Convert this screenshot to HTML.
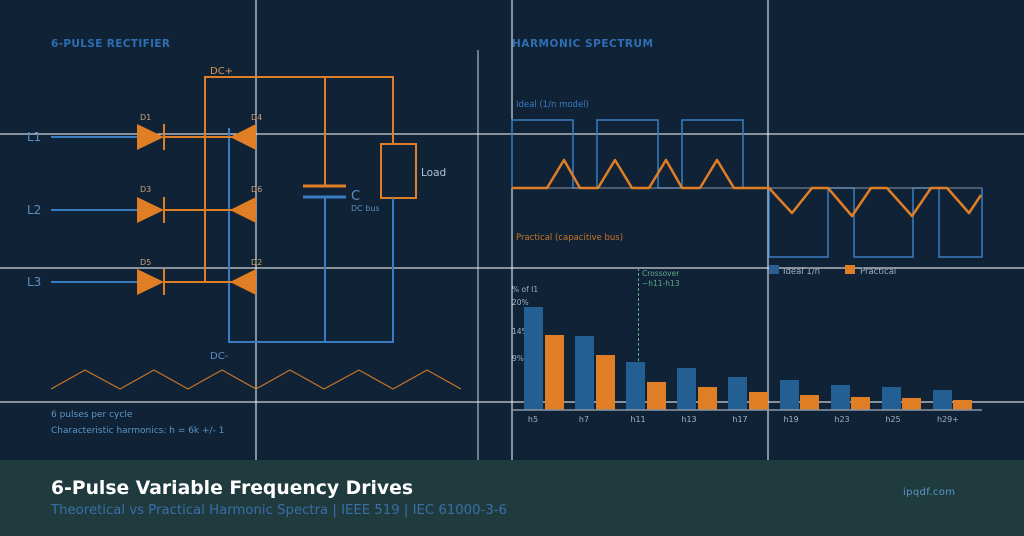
<!DOCTYPE html>
<html><head><meta charset="utf-8"><style>
html,body{margin:0;padding:0;background:#102235;}
svg{display:block;font-family:"DejaVu Sans","Liberation Sans",sans-serif;}
</style></head><body>
<svg width="1024" height="536" viewBox="0 0 1024 536" xmlns="http://www.w3.org/2000/svg">
<rect width="1024" height="536" fill="#102235"/>
<!-- grid lines -->
<g stroke="#ffffff" stroke-width="1">
<line x1="0" y1="134" x2="1024" y2="134"/>
<line x1="0" y1="268" x2="1024" y2="268"/>
<line x1="0" y1="402" x2="1024" y2="402"/>
<line x1="256" y1="0" x2="256" y2="460"/>
<line x1="512" y1="0" x2="512" y2="460"/>
<line x1="768" y1="0" x2="768" y2="460"/>
</g>
<line x1="478" y1="50" x2="478" y2="460" stroke="#d0d6dc" stroke-width="1"/>

<!-- headings -->
<text x="51" y="47" font-size="10.5" font-weight="bold" fill="#2f6eb0" textLength="119">6-PULSE RECTIFIER</text>
<text x="512" y="47" font-size="10.5" font-weight="bold" fill="#2f6eb0" textLength="141">HARMONIC SPECTRUM</text>

<!-- circuit -->
<g fill="none" stroke-width="2">
<path d="M205 282 V77 H393 V144" stroke="#e07e26"/>
<line x1="325" y1="77" x2="325" y2="186" stroke="#e07e26"/>
<rect x="381" y="144" width="35" height="54" stroke="#e07e26"/>
<line x1="303" y1="186" x2="346" y2="186" stroke="#e07e26" stroke-width="3"/>
<line x1="303" y1="197" x2="346" y2="197" stroke="#3a7cc2" stroke-width="3"/>
<path d="M229 128 V342 H393 V198" stroke="#3a7cc2"/>
<line x1="325" y1="197" x2="325" y2="342" stroke="#3a7cc2"/>
<g stroke="#3a7cc2">
<line x1="51" y1="137" x2="137" y2="137"/>
<line x1="51" y1="210" x2="137" y2="210"/>
<line x1="51" y1="282" x2="137" y2="282"/>
</g>
<g stroke="#e07e26">
<line x1="164" y1="137" x2="232" y2="137"/>
<line x1="164" y1="210" x2="232" y2="210"/>
<line x1="164" y1="282" x2="232" y2="282"/>
<line x1="164" y1="124" x2="164" y2="150"/>
<line x1="164" y1="197" x2="164" y2="223"/>
<line x1="164" y1="269" x2="164" y2="295"/>
</g>
</g>
<g fill="#e07e26">
<polygon points="137,124 137,150 164,137"/>
<polygon points="137,197 137,223 164,210"/>
<polygon points="137,269 137,295 164,282"/>
<polygon points="256,124 256,150 230,137"/>
<polygon points="256,197 256,223 230,210"/>
<polygon points="256,269 256,295 230,282"/>
</g>
<g font-size="8" fill="#c9a27a">
<text x="140" y="120">D1</text><text x="251" y="120">D4</text>
<text x="140" y="192">D3</text><text x="251" y="192">D6</text>
<text x="140" y="265">D5</text><text x="251" y="265">D2</text>
</g>
<g font-size="12" fill="#5b8fc4">
<text x="27" y="141">L1</text><text x="27" y="214">L2</text><text x="27" y="286">L3</text>
</g>
<text x="210" y="74" font-size="10" fill="#d49a5a">DC+</text>
<text x="210" y="359" font-size="10" fill="#5b8fc4">DC-</text>
<text x="421" y="176" font-size="10.5" fill="#a9c4dc">Load</text>
<text x="351" y="200" font-size="13" fill="#5b8fc4">C</text>
<text x="351" y="211" font-size="8" fill="#5b8fc4">DC bus</text>
<polyline fill="none" stroke="#c9742a" stroke-width="1.2" points="51,389 85,370 120,389 154,370 188,389 222,370 256,389 290,370 324,389 359,370 393,389 427,370 461,389"/>
<text x="51" y="417" font-size="9" fill="#5b96c8">6 pulses per cycle</text>
<text x="51" y="433" font-size="9" fill="#5b96c8">Characteristic harmonics: h = 6k +/- 1</text>

<!-- waveforms -->
<text x="516" y="107" font-size="8.5" fill="#3a7cc2">Ideal (1/n model)</text>
<text x="516" y="240" font-size="8.5" fill="#c9742a">Practical (capacitive bus)</text>
<polyline fill="none" stroke="#3a7cc2" stroke-width="1.5" points="512,188 512,120 573,120 573,188 597,188 597,120 658,120 658,188 682,188 682,120 743,120 743,188 769,188 769,257 828,257 828,188 854,188 854,257 913,257 913,188 939,188 939,257 982,257 982,188"/>
<line x1="512" y1="188" x2="982" y2="188" stroke="#8a96a4" stroke-width="1"/>
<polyline fill="none" stroke="#e07e26" stroke-width="2.5" stroke-linejoin="round" points="512,188 547,188 564,160 580,188 598,188 615,160 632,188 649,188 666,160 682,188 700,188 717,160 734,188 769,188 792,213 812,188 828,188 852,216 871,188 887,188 912,216 931,188 947,188 969,213 981,195"/>

<!-- legend -->
<rect x="769" y="265" width="10" height="9" fill="#2a5f96"/>
<text x="783" y="274" font-size="8.5" fill="#9fb3c6">Ideal 1/n</text>
<rect x="845" y="265" width="10" height="9" fill="#e07e26"/>
<text x="860" y="274" font-size="8.5" fill="#9fb3c6">Practical</text>

<!-- bar chart -->
<text x="512" y="292" font-size="7.5" fill="#9fb3c6">% of I1</text>
<text x="512" y="305" font-size="7.5" fill="#9fb3c6">20%</text>
<text x="512" y="334" font-size="7.5" fill="#9fb3c6">14%</text>
<text x="512" y="361" font-size="7.5" fill="#9fb3c6">9%</text>
<line x1="638.5" y1="268" x2="638.5" y2="410" stroke="#5fa88a" stroke-width="1" stroke-dasharray="3,2"/>
<text x="642" y="276" font-size="7.5" fill="#5fa88a">Crossover</text>
<text x="642" y="286" font-size="7.5" fill="#5fa88a">~h11-h13</text>
<g fill="#245f94">
<rect x="524" y="307" width="19" height="103"/>
<rect x="575" y="336" width="19" height="74"/>
<rect x="626" y="362" width="19" height="48"/>
<rect x="677" y="368" width="19" height="42"/>
<rect x="728" y="377" width="19" height="33"/>
<rect x="780" y="380" width="19" height="30"/>
<rect x="831" y="385" width="19" height="25"/>
<rect x="882" y="387" width="19" height="23"/>
<rect x="933" y="390" width="19" height="20"/>
</g>
<g fill="#e07e26">
<rect x="545" y="335" width="19" height="75"/>
<rect x="596" y="355" width="19" height="55"/>
<rect x="647" y="382" width="19" height="28"/>
<rect x="698" y="387" width="19" height="23"/>
<rect x="749" y="392" width="19" height="18"/>
<rect x="800" y="395" width="19" height="15"/>
<rect x="851" y="397" width="19" height="13"/>
<rect x="902" y="398" width="19" height="12"/>
<rect x="953" y="400" width="19" height="10"/>
</g>
<line x1="512" y1="410" x2="982" y2="410" stroke="#8a96a4" stroke-width="1.5"/>
<g font-size="8" fill="#9fb3c6" text-anchor="middle">
<text x="533" y="422">h5</text><text x="584" y="422">h7</text><text x="638" y="422">h11</text>
<text x="689" y="422">h13</text><text x="740" y="422">h17</text><text x="791" y="422">h19</text>
<text x="842" y="422">h23</text><text x="893" y="422">h25</text><text x="948" y="422">h29+</text>
</g>

<!-- footer -->
<rect x="0" y="460" width="1024" height="76" fill="#1f3b3e"/>
<text x="51" y="494" font-size="19" font-weight="bold" fill="#ffffff" textLength="362" lengthAdjust="spacingAndGlyphs">6-Pulse Variable Frequency Drives</text>
<text x="51" y="514" font-size="13" fill="#3a6ea8" textLength="456" lengthAdjust="spacingAndGlyphs">Theoretical vs Practical Harmonic Spectra  |  IEEE 519  |  IEC 61000-3-6</text>
<text x="903" y="495" font-size="10" fill="#5b96c8" textLength="52">ipqdf.com</text>
</svg>
</body></html>
